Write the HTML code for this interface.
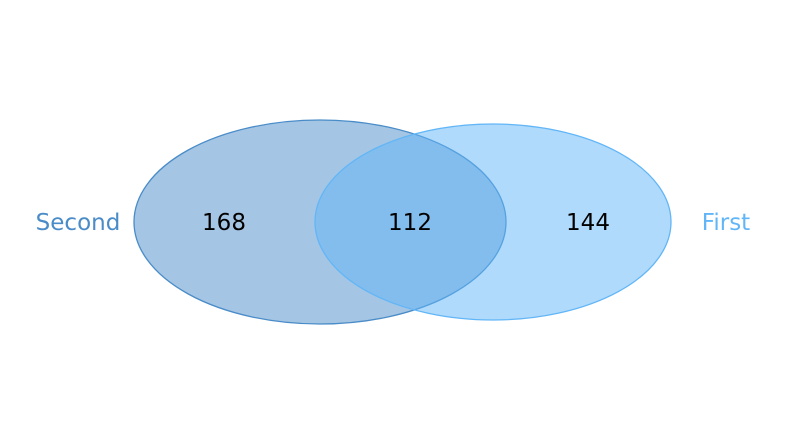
<!DOCTYPE html>
<html><head><meta charset="utf-8"><style>
html,body{margin:0;padding:0;background:#fff;width:805px;height:444px;overflow:hidden}
text{font-family:"DejaVu Sans","Liberation Sans",sans-serif}
</style></head><body>
<svg id="chart" width="805" height="444" viewBox="0 0 805 444" xmlns="http://www.w3.org/2000/svg"></svg>
<script>
const setNames = ["Second", "First"];
const setColors = ["#4a8cc8", "#62b6f7"];
const regionCounts = [168, 112, 144];
const ellipseCx = [320, 493];
const ellipseRx = [186, 178];
const ellipseRy = [102, 98];
const svg = document.getElementById('chart');
const NS = 'http://www.w3.org/2000/svg';
const cy = 222;
for (let i = 0; i < 2; i++) {
  const e = document.createElementNS(NS, 'ellipse');
  
  
  e.setAttribute('cx', ellipseCx[i]); e.setAttribute('cy', cy);
  e.setAttribute('rx', ellipseRx[i]); e.setAttribute('ry', ellipseRy[i]);
  e.setAttribute('fill', setColors[i]); e.setAttribute('fill-opacity', '0.5');
  e.setAttribute('stroke', setColors[i]); e.setAttribute('stroke-width', '1.3');
  svg.appendChild(e);
}
const labelX = [78, 726];
for (let i = 0; i < 2; i++) {
  const t = document.createElementNS(NS, 'text');
  
  
  t.setAttribute('x', labelX[i]); t.setAttribute('y', cy + 8);
  t.setAttribute('text-anchor', 'middle'); t.setAttribute('font-size', '23');
  t.setAttribute('fill', setColors[i]);
  t.textContent = setNames[i];
  svg.appendChild(t);
}
const countX = [224, 410, 588];
const regionNames = ['second-only', 'both', 'first-only'];
for (let i = 0; i < 3; i++) {
  const t = document.createElementNS(NS, 'text');
  
  
  t.setAttribute('x', countX[i]); t.setAttribute('y', cy + 8);
  t.setAttribute('text-anchor', 'middle'); t.setAttribute('font-size', '23');
  t.setAttribute('fill', '#000');
  t.textContent = regionCounts[i];
  svg.appendChild(t);
}
</script>
</body></html>
